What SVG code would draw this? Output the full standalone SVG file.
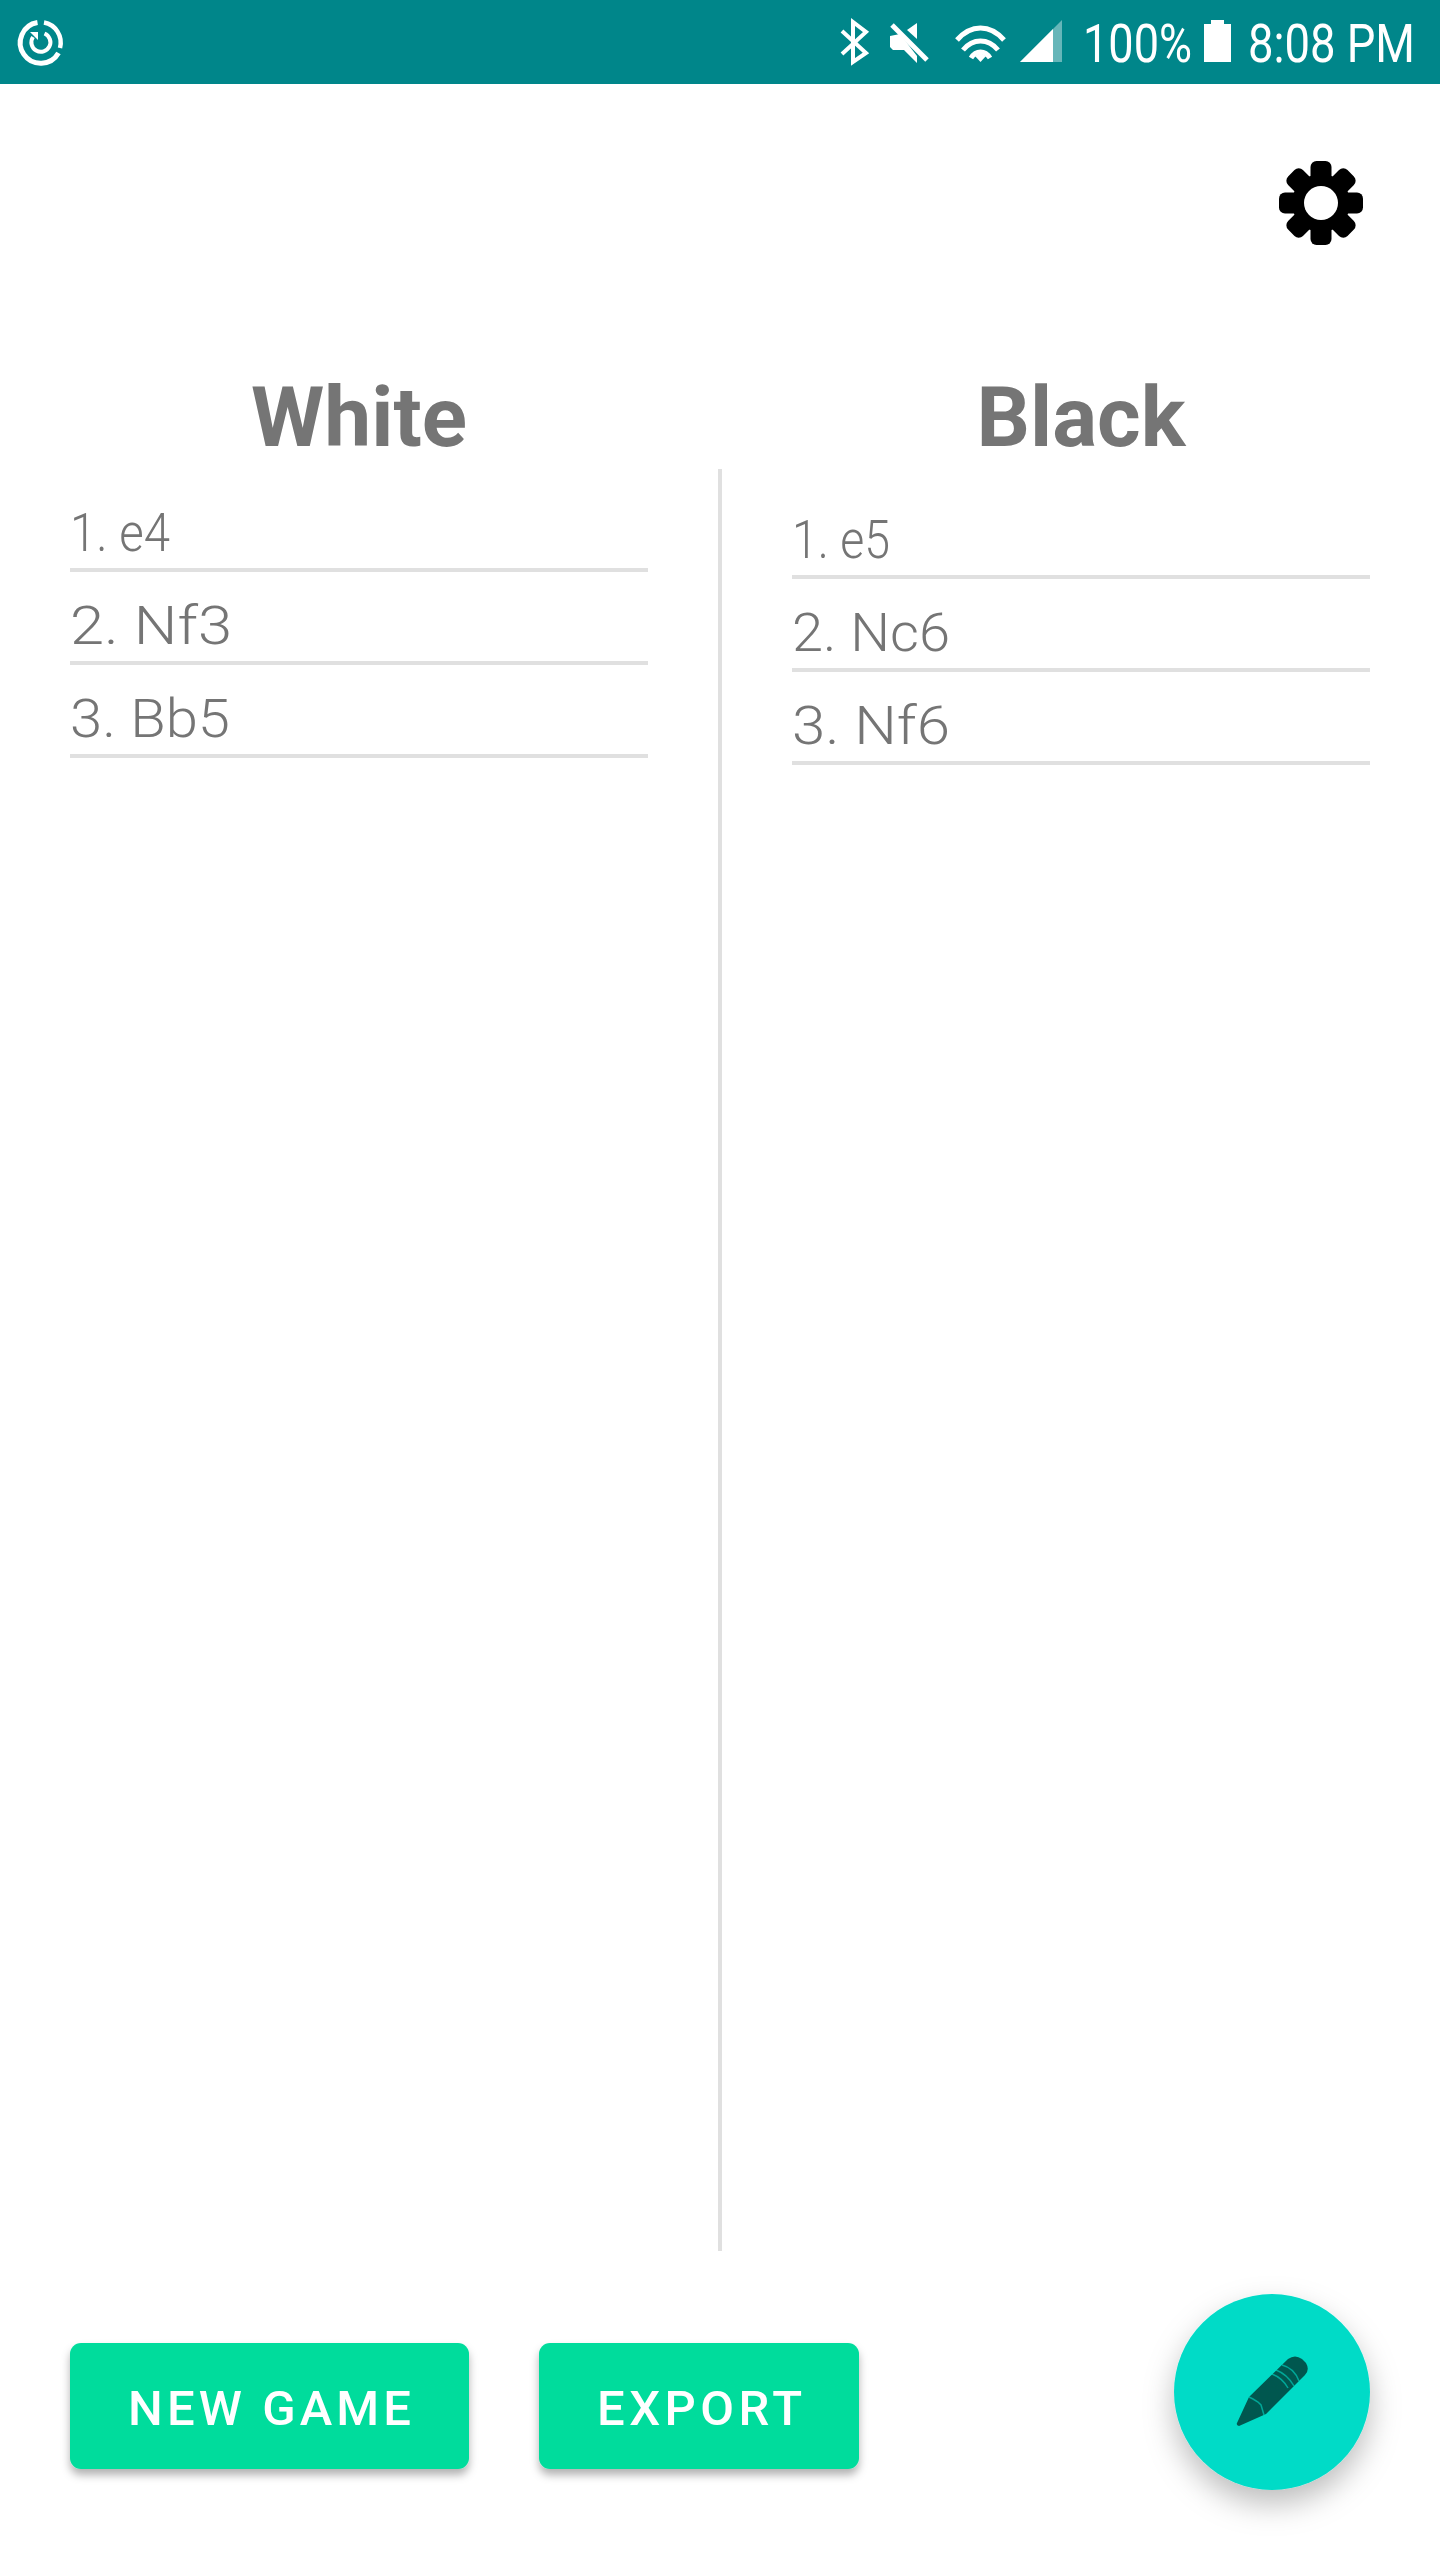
<svg xmlns="http://www.w3.org/2000/svg" width="1440" height="2560" viewBox="0 0 1440 2560">
<defs>
<style>
.status{font-family:"Roboto","Liberation Sans",sans-serif;font-weight:400;font-size:53px;fill:#fff}
.head{font-family:"Roboto","Liberation Sans",sans-serif;font-weight:700;font-size:84px;fill:#757575;text-anchor:middle}
.move{font-family:"Roboto","Liberation Sans",sans-serif;font-weight:300;font-size:53px;fill:#757575}
.rule{fill:#e0e0e0}
.btn{fill:#03dc9c;filter:url(#bs)}
.btnt{font-family:"Roboto","Liberation Sans",sans-serif;font-weight:500;font-size:49px;fill:#fff}
.ic{fill:none;stroke:#fff}
</style>
<filter id="bs" x="-10%" y="-20%" width="120%" height="150%"><feDropShadow dx="0" dy="6" stdDeviation="4" flood-color="#000" flood-opacity="0.3"/></filter>
<filter id="fs" x="-40%" y="-40%" width="180%" height="180%"><feDropShadow dx="0" dy="14" stdDeviation="15" flood-color="#000" flood-opacity="0.26"/></filter>
</defs>
<rect width="1440" height="2560" fill="#fff"/>
<g id="status-bar">
<rect width="1440" height="84" fill="#00868a"/>
<g id="app-icon" class="ic">
<path d="M37.500 22.500A20.500 20.500 0 1 0 58.500 53" stroke-width="5"/>
<path d="M44 22.500A20 20.500 0 0 1 60 48" stroke-width="4.500"/>
<path d="M44.500 33.500A9.500 9.500 0 1 1 33 37" stroke-width="4"/>
<path d="M30 32H38V40Z" fill="#fff" stroke="none"/>
</g>
<g id="bluetooth" class="ic" stroke-width="4">
<path d="M842 31L866 53L853 62V22L866 32L842 54"/>
</g>
<g id="mute" fill="#fff">
<path d="M890 36L900 34L917 56V63L904 50H893L890 47Z"/>
<path d="M907 30L917 23V39Z"/>
<path d="M892 25L927 60" stroke="#fff" stroke-width="5"/>
</g>
<g id="wifi" class="ic" stroke-width="5">
<path d="M957 40C971 24 990 24 1004 40"/>
<path d="M963 50C973 38 988 38 998 50"/>
<path d="M971 58C976 50 985 50 990 58"/>
<path d="M975 56L980.500 53 986 56 980.500 62 Z" fill="#fff" stroke="none"/>
</g>
<g id="signal">
<path d="M1020 62L1062 20V62Z" fill="#fff" opacity="0.4"/>
<path d="M1020 62L1053 29V62Z" fill="#fff"/>
</g>
<text class="status" x="1083" y="62" textLength="109" lengthAdjust="spacingAndGlyphs">100%</text>
<path id="battery" d="M1211 20H1224V24H1231V62H1204V24H1211Z" fill="#fff"/>
<text class="status" x="1248" y="62" textLength="167" lengthAdjust="spacingAndGlyphs">8:08 PM</text>
</g>
<g id="settings" transform="translate(1321 203)">
<g fill="#000">
<circle r="29"/>
<rect x="-10.500" y="-42" width="21" height="24" rx="6"/>
<rect x="-10.500" y="-42" width="21" height="24" rx="6" transform="rotate(45)"/>
<rect x="-10.500" y="-42" width="21" height="24" rx="6" transform="rotate(90)"/>
<rect x="-10.500" y="-42" width="21" height="24" rx="6" transform="rotate(135)"/>
<rect x="-10.500" y="-42" width="21" height="24" rx="6" transform="rotate(180)"/>
<rect x="-10.500" y="-42" width="21" height="24" rx="6" transform="rotate(225)"/>
<rect x="-10.500" y="-42" width="21" height="24" rx="6" transform="rotate(270)"/>
<rect x="-10.500" y="-42" width="21" height="24" rx="6" transform="rotate(315)"/>
</g>
<circle r="17" fill="#fff"/>
</g>
<g id="white-column">
<text class="head" x="359" y="446" textLength="216" lengthAdjust="spacingAndGlyphs">White</text>
<text class="move" x="70" y="551" textLength="100" lengthAdjust="spacingAndGlyphs">1. e4</text>
<rect class="rule" x="70" y="568" width="578" height="4"/>
<text class="move" x="70" y="644" textLength="162" lengthAdjust="spacingAndGlyphs">2. Nf3</text>
<rect class="rule" x="70" y="661" width="578" height="4"/>
<text class="move" x="70" y="737" textLength="160" lengthAdjust="spacingAndGlyphs">3. Bb5</text>
<rect class="rule" x="70" y="754" width="578" height="4"/>
</g>
<rect id="divider" class="rule" x="718" y="469" width="4" height="1782"/>
<g id="black-column">
<text class="head" x="1081" y="446" textLength="209" lengthAdjust="spacingAndGlyphs">Black</text>
<text class="move" x="792" y="558" textLength="98" lengthAdjust="spacingAndGlyphs">1. e5</text>
<rect class="rule" x="792" y="575" width="578" height="4"/>
<text class="move" x="792" y="651" textLength="158" lengthAdjust="spacingAndGlyphs">2. Nc6</text>
<rect class="rule" x="792" y="668" width="578" height="4"/>
<text class="move" x="792" y="744" textLength="158" lengthAdjust="spacingAndGlyphs">3. Nf6</text>
<rect class="rule" x="792" y="761" width="578" height="4"/>
</g>
<g id="new-game">
<rect class="btn" x="70" y="2343" width="399" height="126" rx="11"/>
<text class="btnt" x="128" y="2425" textLength="283" lengthAdjust="spacing">NEW GAME</text>
</g>
<g id="export">
<rect class="btn" x="539" y="2343" width="320" height="126" rx="11"/>
<text class="btnt" x="597" y="2425" textLength="205" lengthAdjust="spacing">EXPORT</text>
</g>
<g id="fab">
<circle cx="1272" cy="2392" r="98" fill="#02dbc7" filter="url(#fs)"/>
<path d="M1237 2423Q1236 2425 1239 2426L1266 2414L1299 2381Q1301 2379 1303 2377L1305 2375Q1310 2370 1306 2363L1302 2359Q1295 2354 1288 2359L1249 2397Z" fill="#00574f"/>
<g fill="none" stroke="#02dbc7" stroke-width="1.500" opacity="0.6">
<path d="M1249 2397L1253 2399L1258 2402L1261 2405L1264 2415"/>
<path d="M1272 2374C1280 2377 1284 2381 1288 2388"/>
<path d="M1276 2370C1284 2373 1290 2379 1294 2386"/>
<path d="M1282 2365C1290 2367 1296 2373 1299 2381"/>
</g>
</g>
</svg>
